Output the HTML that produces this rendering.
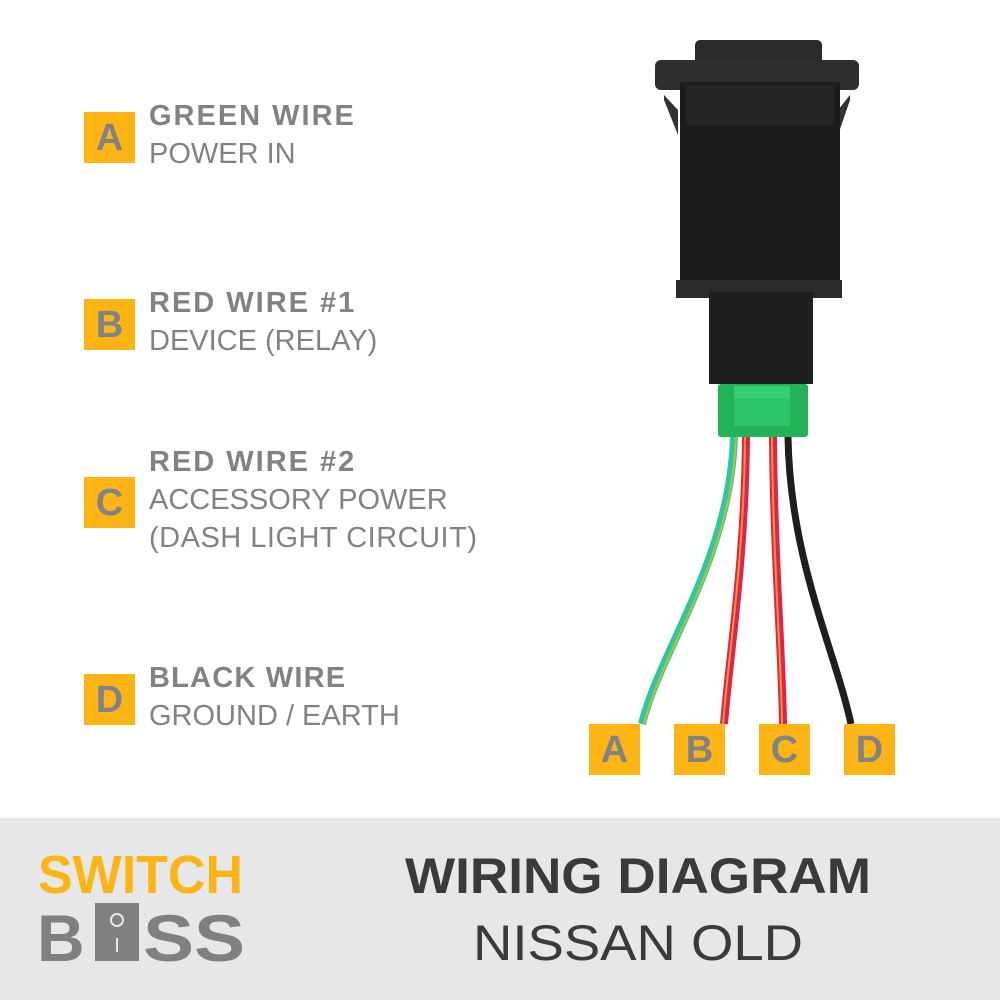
<!DOCTYPE html>
<html><head><style>
body{margin:0;width:1000px;height:1000px;background:#fff;position:relative;overflow:hidden;font-family:"Liberation Sans",sans-serif}
.bx{position:absolute;width:51px;height:51px;background:#fdb515;color:#808285;font-weight:bold;font-size:38px;text-align:center;line-height:53px}
.t{position:absolute;color:#808285;font-size:29px;line-height:38px;white-space:nowrap}
.t b{letter-spacing:2px}
</style></head><body>
<div class="bx" style="left:84px;top:112px">A</div>
<div class="t" style="left:149px;top:97px"><b>GREEN WIRE</b><br>POWER IN</div>
<div class="bx" style="left:84px;top:299px">B</div>
<div class="t" style="left:149px;top:284px"><b>RED WIRE #1</b><br>DEVICE (RELAY)</div>
<div class="bx" style="left:84px;top:477px">C</div>
<div class="t" style="left:149px;top:443px"><b>RED WIRE #2</b><br>ACCESSORY POWER<br><span style="letter-spacing:0.5px">(DASH LIGHT CIRCUIT)</span></div>
<div class="bx" style="left:84px;top:674px">D</div>
<div class="t" style="left:149px;top:659px"><b style="letter-spacing:1.2px">BLACK WIRE</b><br>GROUND / EARTH</div>

<svg style="position:absolute;left:0;top:0" width="1000" height="1000">
<path d="M734 437 C730 560 660 650 642 724" stroke="#2ec7a4" stroke-width="8" fill="none"/>
<path d="M736 437 C732 560 662 650 644 724" stroke="#b8c22a" stroke-width="2" fill="none"/>
<path d="M746 437 C745 560 730 650 724 724" stroke="#e0234e" stroke-width="8" fill="none"/>
<path d="M745 437 C744 560 729 650 723 724" stroke="#f29a2e" stroke-width="2" fill="none"/>
<path d="M773 437 C774 560 782 650 783 724" stroke="#e0234e" stroke-width="8" fill="none"/>
<path d="M772 437 C773 560 781 650 782 724" stroke="#f29a2e" stroke-width="2" fill="none"/>
<path d="M788 437 C790 560 835 650 851 724" stroke="#1e1e1e" stroke-width="7" fill="none"/>
<rect x="695" y="40" width="127" height="28" rx="5" fill="#2a2a2a"/>
<rect x="655" y="60" width="204" height="30" rx="6" fill="#2e2e2e"/>
<path d="M664 95 L678 110 L678 135 L664 100Z" fill="#333"/>
<path d="M850 95 L838 110 L838 135 L850 100Z" fill="#333"/>
<rect x="680" y="82" width="160" height="210" fill="#1c1c1c"/>
<rect x="686" y="85" width="148" height="40" fill="#242424"/>
<rect x="676" y="280" width="166" height="18" fill="#2a2a2a"/>
<rect x="709" y="292" width="104" height="92" fill="#1e1e1e"/>
<rect x="718" y="384" width="90" height="53" rx="3" fill="#22b359"/>
<rect x="734" y="386" width="56" height="40" fill="#2ec46a"/>
<rect x="734" y="386" width="56" height="12" fill="#34d173"/>
<rect x="0" y="818" width="1000" height="182" fill="#e6e7e8"/>
<text x="38" y="893" font-family="Liberation Sans" font-weight="bold" font-size="54" fill="#fdb515" textLength="205" lengthAdjust="spacingAndGlyphs">SWITCH</text>
<text x="37" y="961" font-family="Liberation Sans" font-weight="bold" font-size="66" fill="#808080">B</text>
<rect x="95" y="903" width="44" height="58" fill="#808080"/>
<circle cx="117" cy="920" r="6" fill="none" stroke="#e6e7e8" stroke-width="2"/>
<line x1="117" y1="938" x2="117" y2="952" stroke="#e6e7e8" stroke-width="2"/>
<text x="143" y="961" font-family="Liberation Sans" font-weight="bold" font-size="66" fill="#808080" textLength="102" lengthAdjust="spacingAndGlyphs">SS</text>
<text x="638" y="893" text-anchor="middle" font-family="Liberation Sans" font-weight="bold" font-size="50" fill="#3a3a3a" textLength="466" lengthAdjust="spacingAndGlyphs">WIRING DIAGRAM</text>
<text x="638" y="960" text-anchor="middle" font-family="Liberation Sans" font-size="50" fill="#3a3a3a" textLength="330" lengthAdjust="spacingAndGlyphs">NISSAN OLD</text>
</svg>
<div class="bx" style="left:589px;top:724px">A</div>
<div class="bx" style="left:674px;top:724px">B</div>
<div class="bx" style="left:759px;top:724px">C</div>
<div class="bx" style="left:844px;top:724px">D</div>
</body></html>
